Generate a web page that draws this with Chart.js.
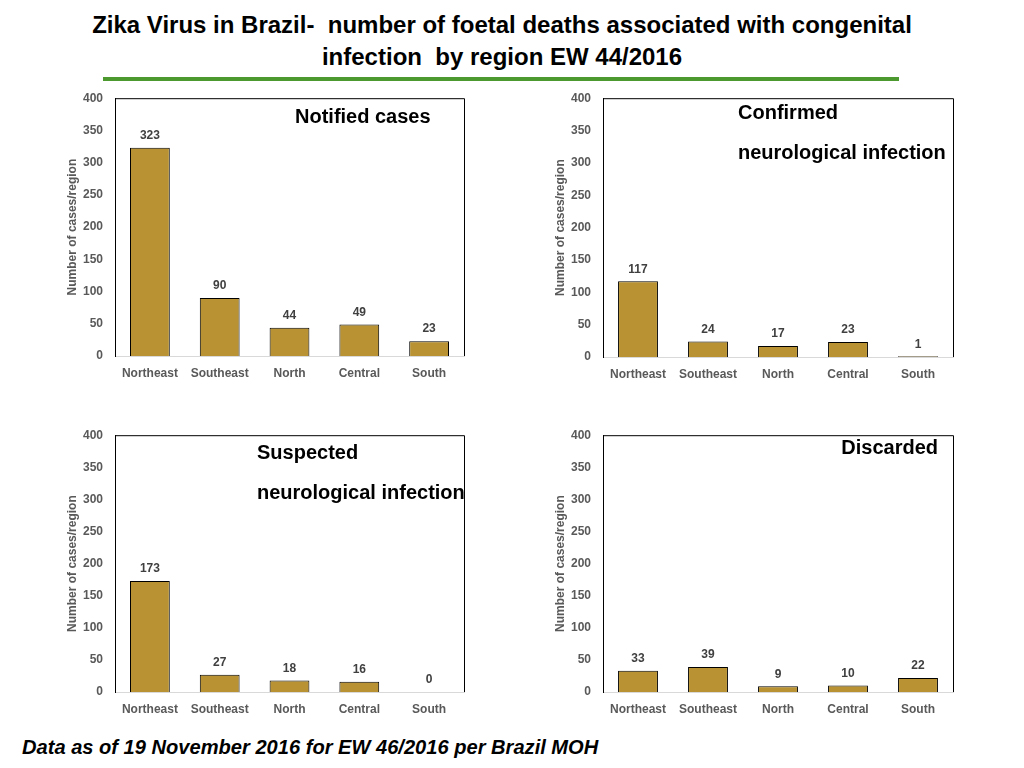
<!DOCTYPE html>
<html>
<head>
<meta charset="utf-8">
<script src="https://cdn.jsdelivr.net/npm/chart.js@4/dist/chart.umd.min.js"></script>
<style>
  html, body { margin:0; padding:0; background:#fff; }
  body { width:1024px; height:768px; position:relative; overflow:hidden; font-family:"Liberation Sans", Arial, sans-serif; }
  #title { position:absolute; left:0; top:9px; width:1004px; text-align:center; font-family:"Liberation Sans", Arial, sans-serif; font-weight:bold; font-size:24px; line-height:32px; color:#000; }
  #rule { position:absolute; left:103px; top:77px; width:796px; height:4px; background:#4c9a2f; }
  #footer { position:absolute; left:22px; top:736px; font-weight:bold; font-style:italic; font-size:20.1px; line-height:22px; color:#000; }
  canvas { position:absolute; }
</style>
</head>
<body>
<div id="title">Zika Virus in Brazil-&nbsp; number of foetal deaths associated with congenital<br>infection&nbsp; by region EW 44/2016</div>
<div id="rule"></div>
<canvas id="c1" width="410" height="307" style="left:60px;top:79px;width:410px;height:307px"></canvas>
<canvas id="c2" width="411" height="308" style="left:548px;top:79px;width:411px;height:308px"></canvas>
<canvas id="c3" width="410" height="306" style="left:60px;top:416px;width:410px;height:306px"></canvas>
<canvas id="c4" width="411" height="306" style="left:548px;top:416px;width:411px;height:306px"></canvas>
<div id="footer">Data as of 19 November 2016 for EW 46/2016 per Brazil MOH</div>
<script>
const regions = ['Northeast', 'Southeast', 'North', 'Central', 'South'];
const notifiedCases = [323, 90, 44, 49, 23];
const confirmedNeuro = [117, 24, 17, 23, 1];
const suspectedNeuro = [173, 27, 18, 16, 0];
const discardedCases = [33, 39, 9, 10, 22];
const yMin = 0;
const yMax = 400;
const yStep = 50;
const yAxisTitle = 'Number of cases/region';

const FONT = '"Liberation Sans", Arial, sans-serif';
const GREY = '#595959';

const panelPlugin = {
  id: 'panel',
  afterDatasetsDraw(chart) {
    const ctx = chart.ctx;
    const a = chart.chartArea;
    ctx.save();
    ctx.strokeStyle = '#000';
    ctx.lineWidth = 1;
    ctx.beginPath();
    ctx.moveTo(a.left, a.top + 0.5);
    ctx.lineTo(a.right + 0.5, a.top + 0.5);
    ctx.lineTo(a.right + 0.5, a.bottom);
    ctx.stroke();
    const meta = chart.getDatasetMeta(0);
    const vals = chart.data.datasets[0].data;
    ctx.fillStyle = '#404040';
    ctx.font = 'bold 12px ' + FONT;
    ctx.textAlign = 'center';
    ctx.textBaseline = 'middle';
    meta.data.forEach((bar, i) => {
      ctx.fillText(String(vals[i]), bar.x, bar.y - 12);
    });
    const notes = chart.options.plugins.panel.notes || [];
    ctx.fillStyle = '#000';
    ctx.font = 'bold 20px ' + FONT;
    notes.forEach(n => {
      ctx.textAlign = n.align || 'left';
      ctx.fillText(n.text, n.x, n.y);
    });
    ctx.restore();
  }
};

function makeChart(id, values, notes) {
  return new Chart(document.getElementById(id), {
    type: 'bar',
    data: {
      labels: regions,
      datasets: [{
        data: values,
        backgroundColor: '#b89233',
        borderColor: '#000',
        borderWidth: 1,
        barPercentage: 0.57,
        categoryPercentage: 1.0
      }]
    },
    options: {
      responsive: false,
      animation: false,
      devicePixelRatio: 1,
      layout: { padding: { top: 8, right: 6, left: 0, bottom: 0 } },
      plugins: {
        legend: { display: false },
        tooltip: { enabled: false },
        panel: { notes: notes }
      },
      scales: {
        x: {
          grid: { display: false, drawTicks: false },
          border: { display: true, color: '#d9d9d9', width: 1 },
          ticks: { color: GREY, font: { family: FONT, size: 12, weight: 'bold' }, padding: 10, maxRotation: 0 },
          afterFit(s) { s.height = 30; }
        },
        y: {
          min: yMin, max: yMax,
          grid: { display: false, drawTicks: false },
          border: { display: true, color: '#000', width: 1 },
          ticks: { stepSize: yStep, color: GREY, font: { family: FONT, size: 12, weight: 'bold' }, padding: 12 },
          title: { display: true, text: yAxisTitle, color: GREY, font: { family: FONT, size: 12, weight: 'bold' }, padding: { top: 5, bottom: 0 } },
          afterFit(s) { s.width = 55; }
        }
      }
    },
    plugins: [panelPlugin]
  });
}

makeChart('c1', notifiedCases, [{ text: 'Notified cases', x: 235, y: 38 }]);
makeChart('c2', confirmedNeuro, [
  { text: 'Confirmed', x: 190, y: 34 },
  { text: 'neurological infection', x: 190, y: 74 }
]);
makeChart('c3', suspectedNeuro, [
  { text: 'Suspected', x: 197, y: 37 },
  { text: 'neurological infection', x: 197, y: 77 }
]);
makeChart('c4', discardedCases, [{ text: 'Discarded', x: 390, y: 32, align: 'right' }]);
</script>
</body>
</html>
